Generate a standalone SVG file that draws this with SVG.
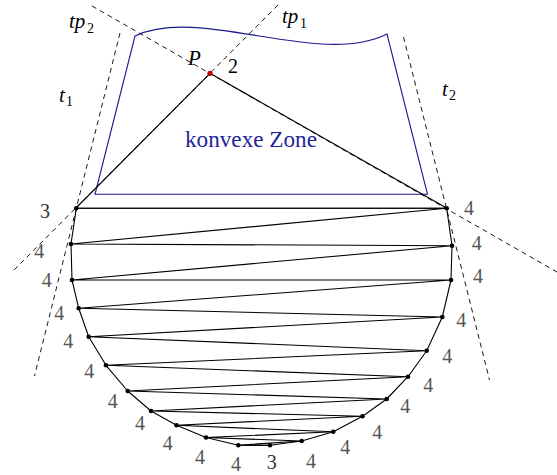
<svg xmlns="http://www.w3.org/2000/svg" width="557" height="475" viewBox="0 0 557 475">
<style>
.ln{fill:none;stroke:#000;stroke-width:1.1;stroke-linejoin:round}
.ds{fill:none;stroke:#000;stroke-width:0.9;stroke-dasharray:5 4}
.zone{fill:none;stroke:#1a1a8c;stroke-width:1.1}
.dot{fill:#000}
.m{font-style:italic;font-size:21px;fill:#000}
.sub{font-size:14px;fill:#000}
.n{font-size:20px;fill:#555;text-anchor:middle}
.n3{font-size:20px;fill:#333;text-anchor:middle}
.two{font-size:20px;fill:#000}
.zt{font-size:23px;fill:#25259a}
</style>
<rect width="557" height="475" fill="#fff"/>
<g id="zone">
<path class="zone" d="M135,36 C200,5 320,68 387,34 L427.5,194.3 L95,194.3 Z"/>
<text class="zt" font-family="Liberation Serif, DejaVu Serif, serif" x="185" y="146.5" textLength="132" lengthAdjust="spacingAndGlyphs">konvexe Zone</text>
</g>
<g id="tangents">
<line class="ds" x1="92" y1="6" x2="557" y2="272"/>
<line class="ds" x1="278" y1="5" x2="12" y2="272"/>
<line class="ds" x1="120" y1="33" x2="34.5" y2="376"/>
<line class="ds" x1="403.5" y1="37" x2="489.5" y2="380"/>
</g>
<g id="connectors">
<polyline class="ln" points="76,208 210,73.3 447,208.3"/>
<polygon class="ln" points="76.3,208.3 71,244 72,280 78.7,308.3 88.7,336.7 106,365.3 127.7,391 151,411 176.5,425.3 206,437.5 238.3,445.2 270,445.2 301.7,441 333.3,431.8 362.5,416.2 386.7,399 408,376.7 426.7,350.7 442.3,317 451,280 452,245.7 446.7,208.3"/>
<polyline class="ln" points="76.3,208.3 446.7,208.3 71,244 452,245.7 72,280 451,280 78.7,308.3 442.3,317 88.7,336.7 426.7,350.7 106,365.3 408,376.7 127.7,391 386.7,399 151,411 362.5,416.2 176.5,425.3 333.3,431.8 206,437.5 301.7,441 238.3,445.2 270,445.2"/>
</g>
<g id="points">
<circle class="dot" cx="76.3" cy="208.3" r="2.3"/>
<circle class="dot" cx="71" cy="244" r="2.3"/>
<circle class="dot" cx="72" cy="280" r="2.3"/>
<circle class="dot" cx="78.7" cy="308.3" r="2.3"/>
<circle class="dot" cx="88.7" cy="336.7" r="2.3"/>
<circle class="dot" cx="106" cy="365.3" r="2.3"/>
<circle class="dot" cx="127.7" cy="391" r="2.3"/>
<circle class="dot" cx="151" cy="411" r="2.3"/>
<circle class="dot" cx="176.5" cy="425.3" r="2.3"/>
<circle class="dot" cx="206" cy="437.5" r="2.3"/>
<circle class="dot" cx="238.3" cy="445.2" r="2.3"/>
<circle class="dot" cx="270" cy="445.2" r="2.3"/>
<circle class="dot" cx="301.7" cy="441" r="2.3"/>
<circle class="dot" cx="333.3" cy="431.8" r="2.3"/>
<circle class="dot" cx="362.5" cy="416.2" r="2.3"/>
<circle class="dot" cx="386.7" cy="399" r="2.3"/>
<circle class="dot" cx="408" cy="376.7" r="2.3"/>
<circle class="dot" cx="426.7" cy="350.7" r="2.3"/>
<circle class="dot" cx="442.3" cy="317" r="2.3"/>
<circle class="dot" cx="451" cy="280" r="2.3"/>
<circle class="dot" cx="452" cy="245.7" r="2.3"/>
<circle class="dot" cx="446.7" cy="208.3" r="2.3"/>
</g>
<g font-family="Liberation Serif, DejaVu Serif, serif">
<g id="P">
<circle cx="210" cy="73.3" r="2.6" fill="#c00000"/>
<text class="m" x="188" y="65">P</text>
<text class="two" x="228" y="72.5">2</text>
</g>
<g id="labels-lines">
<text class="m" x="69" y="28">tp</text><text class="sub" x="87" y="33">2</text>
<text class="m" x="282" y="22.5">tp</text><text class="sub" x="300" y="27.5">1</text>
<text class="m" x="59" y="101.5">t</text><text class="sub" x="66" y="106">1</text>
<text class="m" x="442" y="95.5">t</text><text class="sub" x="449" y="100">2</text>
</g>
<g id="labels-points">
<text class="n3" x="45" y="217.5">3</text>
<text class="n" x="39.3" y="257.5">4</text>
<text class="n" x="46.7" y="287">4</text>
<text class="n" x="59.3" y="320">4</text>
<text class="n" x="68.3" y="347.5">4</text>
<text class="n" x="89.3" y="378">4</text>
<text class="n" x="112.7" y="407.5">4</text>
<text class="n" x="140" y="430">4</text>
<text class="n" x="167.7" y="450">4</text>
<text class="n" x="200" y="463.5">4</text>
<text class="n" x="236" y="471">4</text>
<text class="n3" x="271.7" y="468.5">3</text>
<text class="n" x="311" y="467.5">4</text>
<text class="n" x="345.3" y="454">4</text>
<text class="n" x="377.3" y="438.5">4</text>
<text class="n" x="405.3" y="413">4</text>
<text class="n" x="428.3" y="392">4</text>
<text class="n" x="447.3" y="362.5">4</text>
<text class="n" x="461.3" y="327">4</text>
<text class="n" x="478" y="283">4</text>
<text class="n" x="476.7" y="250">4</text>
<text class="n" x="469" y="215">4</text>
</g>
</g>
</svg>
